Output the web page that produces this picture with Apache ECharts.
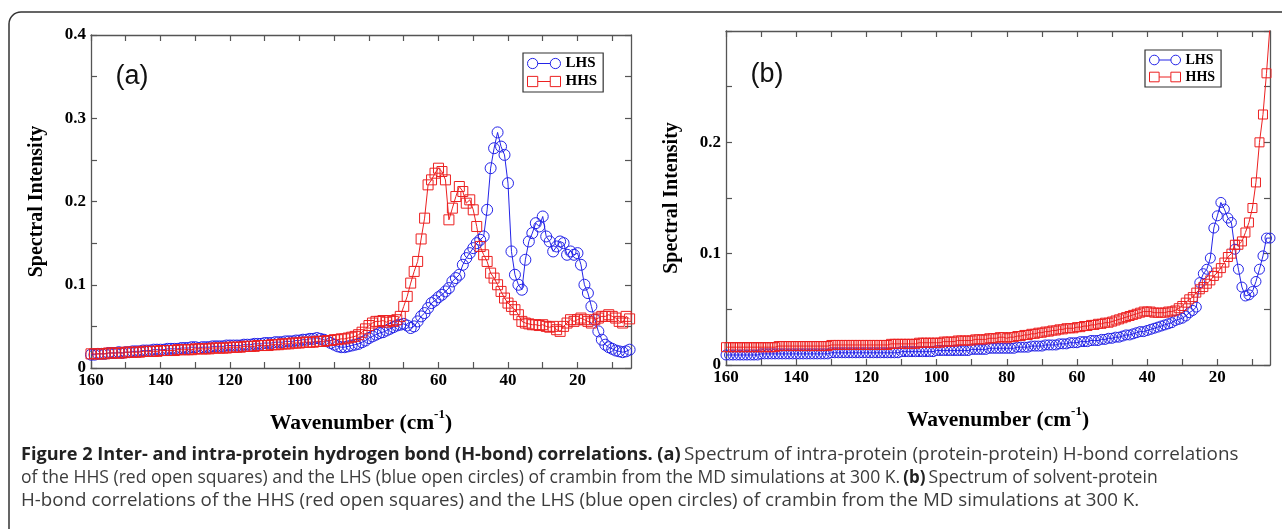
<!DOCTYPE html>
<html>
<head>
<meta charset="utf-8">
<script src="https://cdn.jsdelivr.net/npm/echarts@6/dist/echarts.min.js"></script>
<style>
html,body{margin:0;padding:0;background:#fff;}
#c{width:1282px;height:529px;}
</style>
</head>
<body>
<div id="c"></div>
<script>
// ---------- DATA ----------
// wavenumbers (cm^-1)
const waveA = [
160,159,158,157,156,155,154,153,152,151,
150,149,148,147,146,145,144,143,142,141,
140,139,138,137,136,135,134,133,132,131,
130,129,128,127,126,125,124,123,122,121,
120,119,118,117,116,115,114,113,112,111,
110,109,108,107,106,105,104,103,102,101,
100,99,98,97,96,95,94,93,92,91,
90,89,88,87,86,85,84,83,82,81,
80,79,78,77,76,75,74,73,72,71,
70,69,68,67,66,65,64,63,62,61,
60,59,58,57,56,55,54,53,52,51,
50,49,48,47,46,45,44,43,42,41,
40,39,38,37,36,35,34,33,32,31,
30,29,28,27,26,25,24,23,22,21,
20,19,18,17,16,15,14,13,12,11,
10,9,8,7,6,5];
const waveB = [
160,159,158,157,156,155,154,153,152,151,
150,149,148,147,146,145,144,143,142,141,
140,139,138,137,136,135,134,133,132,131,
130,129,128,127,126,125,124,123,122,121,
120,119,118,117,116,115,114,113,112,111,
110,109,108,107,106,105,104,103,102,101,
100,99,98,97,96,95,94,93,92,91,
90,89,88,87,86,85,84,83,82,81,
80,79,78,77,76,75,74,73,72,71,
70,69,68,67,66,65,64,63,62,61,
60,59,58,57,56,55,54,53,52,51,
50,49,48,47,46,45,44,43,42,41,
40,39,38,37,36,35,34,33,32,31,
30,29,28,27,26,25,24,23,22,21,
20,19,18,17,16,15,14,13,12,11,
10,9,8,7,6,5];

// Panel (a): intra-protein H-bond spectra
const lhsA = [
0.016,0.016,0.017,0.017,0.017,0.018,0.018,0.018,0.019,0.018,
0.019,0.019,0.020,0.020,0.020,0.021,0.021,0.021,0.022,0.022,
0.022,0.022,0.023,0.023,0.023,0.023,0.024,0.024,0.024,0.025,
0.025,0.024,0.025,0.025,0.025,0.026,0.026,0.026,0.026,0.027,
0.027,0.027,0.027,0.027,0.028,0.028,0.028,0.029,0.029,0.029,
0.030,0.030,0.030,0.031,0.031,0.031,0.032,0.032,0.032,0.033,
0.033,0.034,0.034,0.035,0.035,0.036,0.035,0.034,0.032,0.030,
0.028,0.026,0.025,0.025,0.026,0.027,0.028,0.029,0.031,0.033,
0.036,0.038,0.040,0.042,0.043,0.045,0.047,0.049,0.051,0.052,
0.053,0.051,0.048,0.050,0.056,0.062,0.066,0.072,0.078,0.081,
0.085,0.088,0.092,0.096,0.104,0.108,0.112,0.124,0.132,0.138,
0.144,0.150,0.154,0.158,0.190,0.240,0.264,0.283,0.266,0.256,
0.222,0.140,0.112,0.100,0.094,0.130,0.152,0.162,0.174,0.170,
0.182,0.158,0.152,0.140,0.146,0.152,0.150,0.136,0.140,0.136,
0.138,0.124,0.100,0.090,0.074,0.058,0.044,0.034,0.028,0.025,
0.023,0.021,0.020,0.019,0.020,0.022];
const hhsA = [
0.017,0.017,0.017,0.017,0.017,0.018,0.018,0.018,0.018,0.018,
0.019,0.019,0.019,0.019,0.019,0.020,0.020,0.020,0.020,0.020,
0.021,0.021,0.021,0.021,0.021,0.022,0.022,0.022,0.022,0.022,
0.023,0.023,0.023,0.023,0.023,0.024,0.024,0.024,0.024,0.024,
0.025,0.025,0.025,0.025,0.026,0.026,0.026,0.026,0.027,0.027,
0.027,0.027,0.028,0.028,0.028,0.029,0.029,0.029,0.030,0.030,
0.030,0.031,0.031,0.031,0.031,0.032,0.032,0.032,0.033,0.033,
0.034,0.034,0.035,0.035,0.036,0.037,0.038,0.040,0.043,0.047,
0.051,0.054,0.056,0.056,0.057,0.055,0.057,0.056,0.058,0.062,
0.074,0.086,0.102,0.116,0.128,0.155,0.180,0.220,0.226,0.234,
0.240,0.236,0.226,0.178,0.192,0.206,0.218,0.212,0.198,0.202,
0.190,0.170,0.146,0.136,0.128,0.114,0.108,0.100,0.092,0.084,
0.078,0.074,0.070,0.064,0.056,0.054,0.053,0.052,0.052,0.051,
0.052,0.050,0.049,0.050,0.046,0.044,0.050,0.054,0.058,0.056,
0.058,0.060,0.058,0.056,0.054,0.058,0.060,0.062,0.062,0.064,
0.062,0.060,0.056,0.054,0.062,0.059];

// Panel (b): solvent-protein H-bond spectra
const lhsB = [
0.009,0.009,0.009,0.009,0.009,0.009,0.009,0.009,0.009,0.009,
0.010,0.010,0.010,0.010,0.010,0.010,0.010,0.010,0.010,0.010,
0.010,0.010,0.010,0.010,0.010,0.010,0.010,0.010,0.010,0.010,
0.011,0.011,0.011,0.011,0.011,0.011,0.011,0.011,0.011,0.011,
0.011,0.011,0.011,0.011,0.011,0.011,0.011,0.011,0.011,0.011,
0.012,0.012,0.012,0.012,0.012,0.012,0.012,0.012,0.012,0.012,
0.013,0.013,0.013,0.013,0.013,0.013,0.013,0.013,0.013,0.013,
0.014,0.014,0.014,0.014,0.014,0.015,0.015,0.015,0.015,0.015,
0.015,0.015,0.015,0.016,0.016,0.016,0.016,0.017,0.017,0.017,
0.017,0.018,0.018,0.018,0.018,0.019,0.019,0.019,0.020,0.020,
0.020,0.021,0.021,0.021,0.022,0.022,0.022,0.023,0.023,0.024,
0.024,0.025,0.025,0.026,0.027,0.027,0.028,0.029,0.030,0.030,
0.031,0.032,0.033,0.034,0.035,0.036,0.037,0.038,0.040,0.041,
0.042,0.044,0.047,0.049,0.052,0.074,0.082,0.086,0.096,0.123,
0.134,0.146,0.140,0.132,0.128,0.104,0.086,0.070,0.062,0.063,
0.066,0.075,0.086,0.098,0.114,0.114];
const hhsB = [
0.016,0.016,0.016,0.016,0.016,0.016,0.016,0.016,0.016,0.016,
0.016,0.016,0.016,0.016,0.016,0.017,0.017,0.017,0.017,0.017,
0.017,0.017,0.017,0.017,0.017,0.017,0.017,0.017,0.017,0.017,
0.018,0.018,0.018,0.018,0.018,0.018,0.018,0.018,0.018,0.018,
0.018,0.018,0.018,0.018,0.018,0.018,0.018,0.019,0.019,0.019,
0.019,0.019,0.019,0.019,0.019,0.020,0.020,0.020,0.020,0.020,
0.020,0.020,0.021,0.021,0.021,0.021,0.022,0.022,0.022,0.022,
0.022,0.023,0.023,0.023,0.023,0.024,0.024,0.024,0.025,0.025,
0.024,0.025,0.025,0.026,0.026,0.027,0.027,0.028,0.028,0.029,
0.029,0.030,0.030,0.031,0.031,0.032,0.032,0.033,0.033,0.033,
0.034,0.034,0.035,0.035,0.036,0.036,0.037,0.037,0.038,0.038,
0.039,0.040,0.041,0.042,0.043,0.044,0.045,0.046,0.047,0.048,
0.048,0.048,0.047,0.047,0.047,0.047,0.048,0.048,0.049,0.051,
0.053,0.056,0.059,0.061,0.065,0.068,0.070,0.073,0.076,0.080,
0.083,0.087,0.092,0.097,0.100,0.108,0.108,0.111,0.119,0.128,
0.141,0.164,0.200,0.225,0.262,0.305];

// Tick values
const xTickValues = [10,20,30,40,50,60,70,80,90,100,110,120,130,140,150,160];
const xLabelValues = [20,40,60,80,100,120,140,160];
const yTicksA = [0,0.05,0.1,0.15,0.2,0.25,0.3,0.35,0.4];
const yLabelsA = [0,0.1,0.2,0.3,0.4];
const yTicksB = [0,0.05,0.1,0.15,0.2,0.25,0.3];
const yLabelsB = [0,0.1,0.2];
const seriesNames = ['LHS','HHS'];

// ---------- STYLE ----------
const BLUE = '#2424e8';
const RED = '#ec2020';
const AX = '#555';
const serif = "'Liberation Serif', 'DejaVu Serif', serif";
const sans = "'Open Sans', sans-serif";

function pairs(xs, ys){ return xs.map((x,i)=>[x, ys[i]]); }

function xAxes(grid, min){
  const common = {
    gridIndex: grid, type:'value', inverse:true, min:min, max:160,
    splitLine:{show:false},
    axisLine:{show:true, onZero:false, lineStyle:{color:AX, width:1.3}},
    axisTick:{show:true, inside:true, length:6, customValues:xTickValues, lineStyle:{color:AX, width:1.2}}
  };
  return [
    Object.assign({}, common, {
      position:'bottom',
      axisLabel:{show:true, customValues:xLabelValues, margin:4, color:'#000',
        fontFamily:serif, fontWeight:'bold', fontSize:17},
      name:'{a|Wavenumber (cm}{s|-1}{a|)}',
      nameLocation:'middle', nameGap:40,
      nameTextStyle:{rich:{
        a:{fontFamily:serif, fontWeight:'bold', fontSize:21.5, color:'#000', lineHeight:26, verticalAlign:'bottom'},
        s:{fontFamily:serif, fontWeight:'bold', fontSize:13, color:'#000', lineHeight:26, verticalAlign:'top'}
      }}
    }),
    Object.assign({}, common, {position:'top', axisLabel:{show:false}})
  ];
}
function yAxes(grid, max, ticks, labels, gap){
  const common = {
    gridIndex: grid, type:'value', min:0, max:max,
    splitLine:{show:false},
    axisLine:{show:true, onZero:false, lineStyle:{color:AX, width:1.3}},
    axisTick:{show:true, inside:true, length:6, customValues:ticks, lineStyle:{color:AX, width:1.2}}
  };
  return [
    Object.assign({}, common, {
      position:'left',
      axisLabel:{show:true, customValues:labels, margin:5, color:'#000',
        fontFamily:serif, fontWeight:'bold', fontSize:17,
        formatter:v => v===0 ? '0' : v.toFixed(1)},
      name:'Spectral Intensity', nameLocation:'middle', nameGap:gap, nameRotate:90,
      nameTextStyle:{fontFamily:serif, fontWeight:'bold', fontSize:20, color:'#000'}
    }),
    Object.assign({}, common, {position:'right', axisLabel:{show:false}})
  ];
}

function makeSeries(name, xi, yi, xs, ys, color, symbol, size){
  return {
    name:name, type:'line', xAxisIndex:xi, yAxisIndex:yi,
    data:pairs(xs, ys), symbol:symbol, symbolSize:size, showAllSymbol:true,
    itemStyle:{color:'rgba(0,0,0,0)', borderColor:color, borderWidth:1},
    lineStyle:{color:color, width:1},
    emphasis:{disabled:true}, clip:true, z:2
  };
}

const circIcon = 'path://M0.5,5a4.5,4.5 0 1,0 9,0a4.5,4.5 0 1,0 -9,0M9.5,5L20.5,5M20.5,5a4.5,4.5 0 1,0 9,0a4.5,4.5 0 1,0 -9,0';
const rectIcon = 'path://M0.5,0.5h9v9h-9zM9.5,5L20.5,5M20.5,0.5h9v9h-9z';

function legendAt(left, top, fs, iw, ih){
  return {
    left:left, top:top, orient:'vertical', itemWidth:iw, itemHeight:ih, itemGap:3,
    padding:[3,6,3,4], borderColor:'#333', borderWidth:1.2, backgroundColor:'#fff',
    borderRadius:0, selectedMode:false,
    textStyle:{fontFamily:serif, fontWeight:'bold', fontSize:fs, color:'#000', lineHeight:13},
    data:[
      {name:seriesNames[0], icon:circIcon, itemStyle:{color:'rgba(0,0,0,0)', borderColor:BLUE, borderWidth:1}},
      {name:seriesNames[1], icon:rectIcon, itemStyle:{color:'rgba(0,0,0,0)', borderColor:RED, borderWidth:1}}
    ]
  };
}

function captionLine(y, text, sx){
  return {type:'text', silent:true, x:21, y:y, scaleX:sx, originX:0, originY:0,
    style:{x:0, y:0, verticalAlign:'middle', text:text,
      rich:{b:{fontFamily:sans, fontWeight:'bold', fontSize:17.6, fill:'#222'},
            n:{fontFamily:sans, fontSize:18.3, fill:'#3c3c3c'}}}};
}

const chart = echarts.init(document.getElementById('c'), null, {renderer:'canvas'});
const option = {
  animation:false,
  backgroundColor:'#fff',
  grid:[
    {left:91, top:35, width:540, height:333},
    {left:726, top:31, width:544, height:334}
  ],
  xAxis:[].concat(xAxes(0, 4.6), xAxes(1, 5)),
  yAxis:[].concat(yAxes(0, 0.4, yTicksA, yLabelsA, 44), yAxes(1, 0.3, yTicksB, yLabelsB, 44)),
  legend:[legendAt(523, 53, 15, 33, 11), legendAt(1145, 50, 14, 31, 10)],
  series:[
    makeSeries(seriesNames[0], 0, 0, waveA, lhsA, BLUE, 'circle', 11),
    makeSeries(seriesNames[1], 0, 0, waveA, hhsA, RED, 'rect', 10),
    makeSeries(seriesNames[0], 2, 2, waveB, lhsB, BLUE, 'circle', 10),
    makeSeries(seriesNames[1], 2, 2, waveB, hhsB, RED, 'rect', 9)
  ],
  graphic:[
    {type:'rect', z:-1, silent:true,
     shape:{x:9, y:12, width:1300, height:560, r:12},
     style:{fill:'none', stroke:'#333', lineWidth:1.5}},
    {type:'text', silent:true, style:{text:'(a)', x:132, y:77, align:'center', verticalAlign:'middle',
      font:"27px 'Liberation Sans', Arial, sans-serif", fill:'#111'}},
    {type:'text', silent:true, style:{text:'(b)', x:767, y:75, align:'center', verticalAlign:'middle',
      font:"27px 'Liberation Sans', Arial, sans-serif", fill:'#111'}},
    captionLine(455, '{b|Figure 2 Inter- and intra-protein hydrogen bond (H-bond) correlations. (a)} {n|Spectrum of intra-protein (protein-protein) H-bond correlations}', 1.03),
    captionLine(478, '{n|of the HHS (red open squares) and the LHS (blue open circles) of crambin from the MD simulations at 300 K.} {b|(b)} {n|Spectrum of solvent-protein}', 0.96),
    captionLine(501, '{n|H-bond correlations of the HHS (red open squares) and the LHS (blue open circles) of crambin from the MD simulations at 300 K.}', 1.025)
  ]
};
chart.setOption(option);
</script>
</body>
</html>
